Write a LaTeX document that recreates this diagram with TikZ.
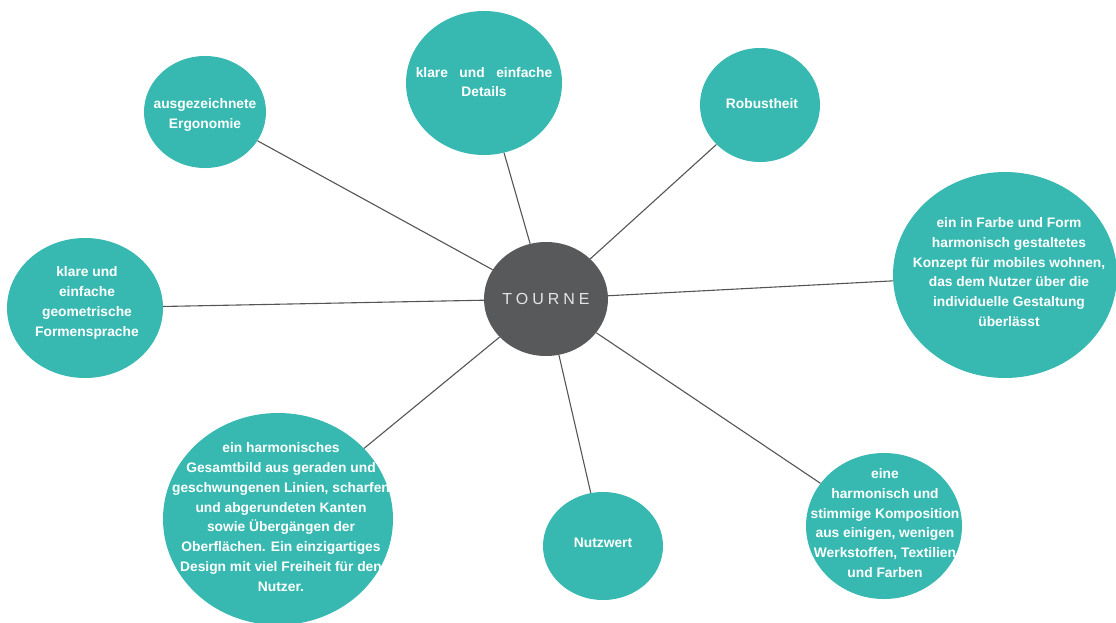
\documentclass[tikz,border=0pt]{standalone}
\usepackage{fontspec}
\setmainfont{Liberation Sans}
\newfontfamily\tournefont[LetterSpace=25]{Liberation Sans}
\usetikzlibrary{shapes.geometric}
\definecolor{teal}{HTML}{37B9B1}
\definecolor{hubgrey}{HTML}{58595B}
\definecolor{linegrey}{HTML}{555555}
\tikzset{
  bubble/.style={ellipse, fill=teal, inner sep=0pt},
  bubbletext/.style={text=white, inner sep=0pt, align=center,
    font=\bfseries\fontsize{13.8}{19.8}\selectfont},
  hub/.style={ellipse, fill=hubgrey, text=white!90!black, inner sep=0pt,
    font=\tournefont\fontsize{16}{18}\selectfont},
  spoke/.style={draw=linegrey, line width=1.1pt}
}
\begin{document}
\begin{tikzpicture}[x=1pt,y=-1pt]
\useasboundingbox[fill=white] (0,0) rectangle (1116,623);
\node[hub, minimum width=124pt, minimum height=114pt] (hub) at (546,299) {TOURNE};
\node[bubble, minimum width=122pt, minimum height=112pt] (ergo) at (205,112) {};
\node[bubbletext] (ergo-t) at (205,115) {ausgezeichnete\\Ergonomie};
\node[bubble, minimum width=156pt, minimum height=144pt] (details) at (484,83) {};
\node[bubbletext] (details-t) at (484,82) {klare\ \ \ und\ \ \ einfache\\Details};
\node[bubble, minimum width=120pt, minimum height=114pt] (robust) at (760,105) {};
\node[bubbletext] (robust-t) at (762,104) {Robustheit};
\node[bubble, minimum width=224pt, minimum height=206pt] (konzept) at (1005,275) {};
\node[bubbletext] (konzept-t) at (1009,272) {ein in Farbe und Form\\harmonisch gestaltetes\\Konzept für mobiles wohnen,\\das dem Nutzer über die\\individuelle Gestaltung\\überlässt};
\node[bubble, minimum width=156pt, minimum height=140pt] (geo) at (85,308) {};
\node[bubbletext] (geo-t) at (87,303) {klare und\\einfache\\geometrische\\Formensprache};
\node[bubble, minimum width=230pt, minimum height=212pt] (gesamt) at (278,519) {};
\node[bubbletext] (gesamt-t) at (281,517) {ein harmonisches\\Gesamtbild aus geraden und\\geschwungenen Linien, scharfen\\und abgerundeten Kanten\\sowie Übergängen der\\Oberflächen. Ein einzigartiges\\Design mit viel Freiheit für den\\Nutzer.};
\node[bubble, minimum width=120pt, minimum height=108pt] (nutz) at (603,546) {};
\node[bubbletext] (nutz-t) at (603,543) {Nutzwert};
\node[bubble, minimum width=156pt, minimum height=146pt] (kompo) at (884,526) {};
\node[bubbletext] (kompo-t) at (885,523) {eine\\harmonisch und\\stimmige Komposition\\aus einigen, wenigen\\Werkstoffen, Textilien\\und Farben};
\foreach \n in {ergo,details,robust,konzept,geo,gesamt,nutz,kompo}
  \draw[spoke] (hub) -- (\n);
\end{tikzpicture}
\end{document}
